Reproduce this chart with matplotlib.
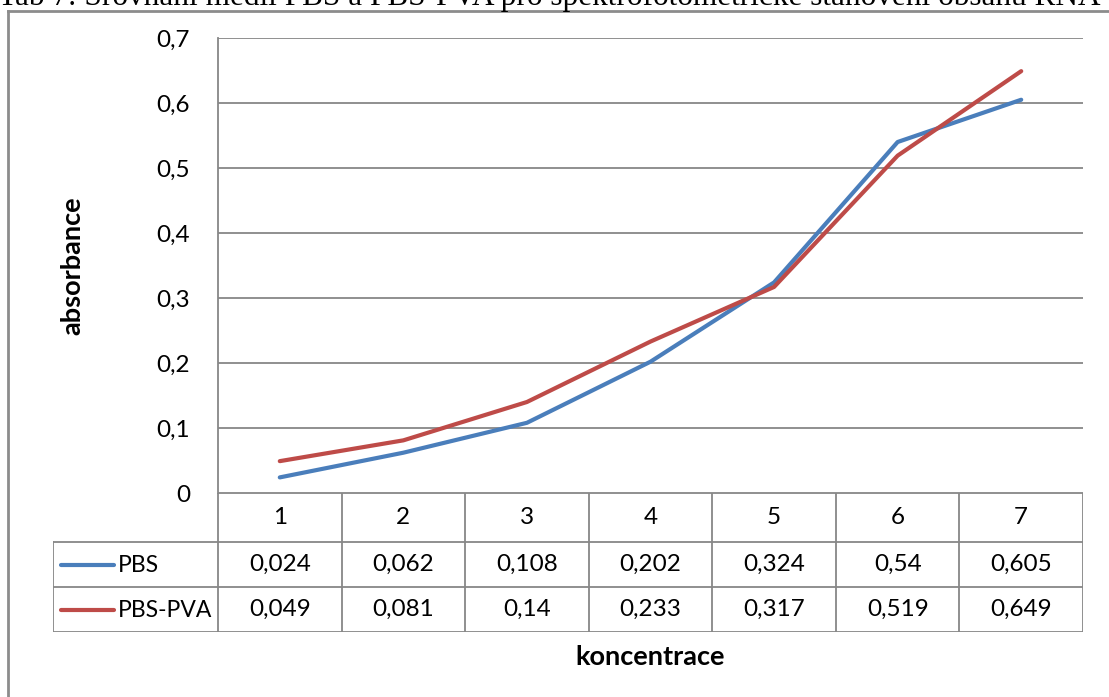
import numpy as np
import matplotlib.pyplot as plt
from matplotlib.lines import Line2D
from matplotlib.ticker import FuncFormatter, MultipleLocator

# concentration steps and measured absorbance for both media
koncentrace = [1, 2, 3, 4, 5, 6, 7]
pbs = [0.024, 0.062, 0.108, 0.202, 0.324, 0.54, 0.605]
pbs_pva = [0.049, 0.081, 0.14, 0.233, 0.317, 0.519, 0.649]
series_names = ["PBS", "PBS-PVA"]
series_colors = ["#4A7EBB", "#BE4B48"]
caption = "Tab 7: Srovnání médií PBS a PBS-PVA pro spektrofotometrické stanovení obsahu RNA"

W, H = 1109, 697
grid_col = "#878787"
font = ["Lato", "DejaVu Sans"]
fs = 17.5
fs_lab = 19.5

fig = plt.figure(figsize=(W / 100, H / 100), dpi=100)

def fx(px):
    return px / W

def fy(py):
    return 1 - py / H

# pixel layout of the plot area and the data table
left, right, top, bottom = 218, 1083, 38, 493
leg_left = 53
row_edges = [493, 542, 587, 632]

ax = fig.add_axes([fx(left), fy(bottom), fx(right - left), (bottom - top) / H])
x = np.arange(len(koncentrace))
for vals, name, col in zip([pbs, pbs_pva], series_names, series_colors):
    ax.plot(x, vals, color=col, lw=3.0, solid_capstyle="round", label=name, zorder=3)

ax.set_xlim(-0.5, len(koncentrace) - 0.5)
ax.set_ylim(0, 0.7)
ax.yaxis.set_major_locator(MultipleLocator(0.1))
ax.yaxis.set_major_formatter(FuncFormatter(lambda v, p: "0" if abs(v) < 1e-9 else f"{v:.1f}".replace(".", ",")))
ax.set_xticks([])
ax.tick_params(axis="y", length=0, pad=20, labelsize=fs, labelfontfamily=font)
ax.grid(axis="y", color=grid_col, lw=1.3)
for s in ["top", "right", "bottom"]:
    ax.spines[s].set_visible(False)
ax.spines["left"].set_color(grid_col)
ax.spines["left"].set_linewidth(1.3)
ax.set_ylabel("absorbance", fontsize=fs_lab, fontweight="bold", family=font, labelpad=52)

# data table beneath the plot, sharing the category columns
col_w = (right - left) / len(koncentrace)
tab = fig.add_axes([fx(leg_left), fy(row_edges[-1]), fx(right - leg_left), (row_edges[-1] - row_edges[0]) / H])
tab.set_xlim(-0.5 - (left - leg_left) / col_w, len(koncentrace) - 0.5)
tab.set_ylim(row_edges[-1], row_edges[0])
tab.axis("off")

lkw = dict(color=grid_col, lw=1.3, solid_capstyle="projecting")
x0 = tab.get_xlim()[0]
tab.plot([-0.5, len(x) - 0.5], [row_edges[0]] * 2, **lkw)
for ry in row_edges[1:]:
    tab.plot([x0, len(x) - 0.5], [ry, ry], **lkw)
for cx in np.arange(len(x) + 1) - 0.5:
    tab.plot([cx, cx], [row_edges[0], row_edges[-1]], **lkw)
tab.plot([x0, x0], [row_edges[1], row_edges[-1]], **lkw)

tkw = dict(fontsize=fs, family=font, ha="center", va="center")
hdr_y = (row_edges[0] + row_edges[1]) / 2
for i, k in enumerate(koncentrace):
    tab.text(i, hdr_y, str(k), **tkw)
for r, (vals, name, col) in enumerate(zip([pbs, pbs_pva], series_names, series_colors)):
    ry = (row_edges[r + 1] + row_edges[r + 2]) / 2
    for i, v in enumerate(vals):
        tab.text(i, ry, f"{v:g}".replace(".", ","), **tkw)
    tab.plot([x0 + 8 / col_w, x0 + 61 / col_w], [ry, ry], color=col, lw=3.0, solid_capstyle="round")
    tab.text(x0 + 65 / col_w, ry + 1, name, fontsize=16.5, family=font, ha="left", va="center")

fig.text(fx((left + right) / 2), fy(657), "koncentrace", fontsize=fs_lab, fontweight="bold",
         family=font, ha="center", va="center")

# outer frame of the chart object
frame = dict(color="#8C8C8C", lw=2.0)
fig.add_artist(Line2D([fx(8), fx(8)], [fy(11), 0], transform=fig.transFigure, **frame))
fig.add_artist(Line2D([fx(8), 1], [fy(11), fy(11)], transform=fig.transFigure, **frame))

# caption of the page above, only its lower part falls inside the image
fig.text(fx(-2), fy(5.5), caption, fontsize=22.5, family=["Liberation Serif", "DejaVu Serif"],
         ha="left", va="baseline")

fig.savefig("out.png", dpi=100)
